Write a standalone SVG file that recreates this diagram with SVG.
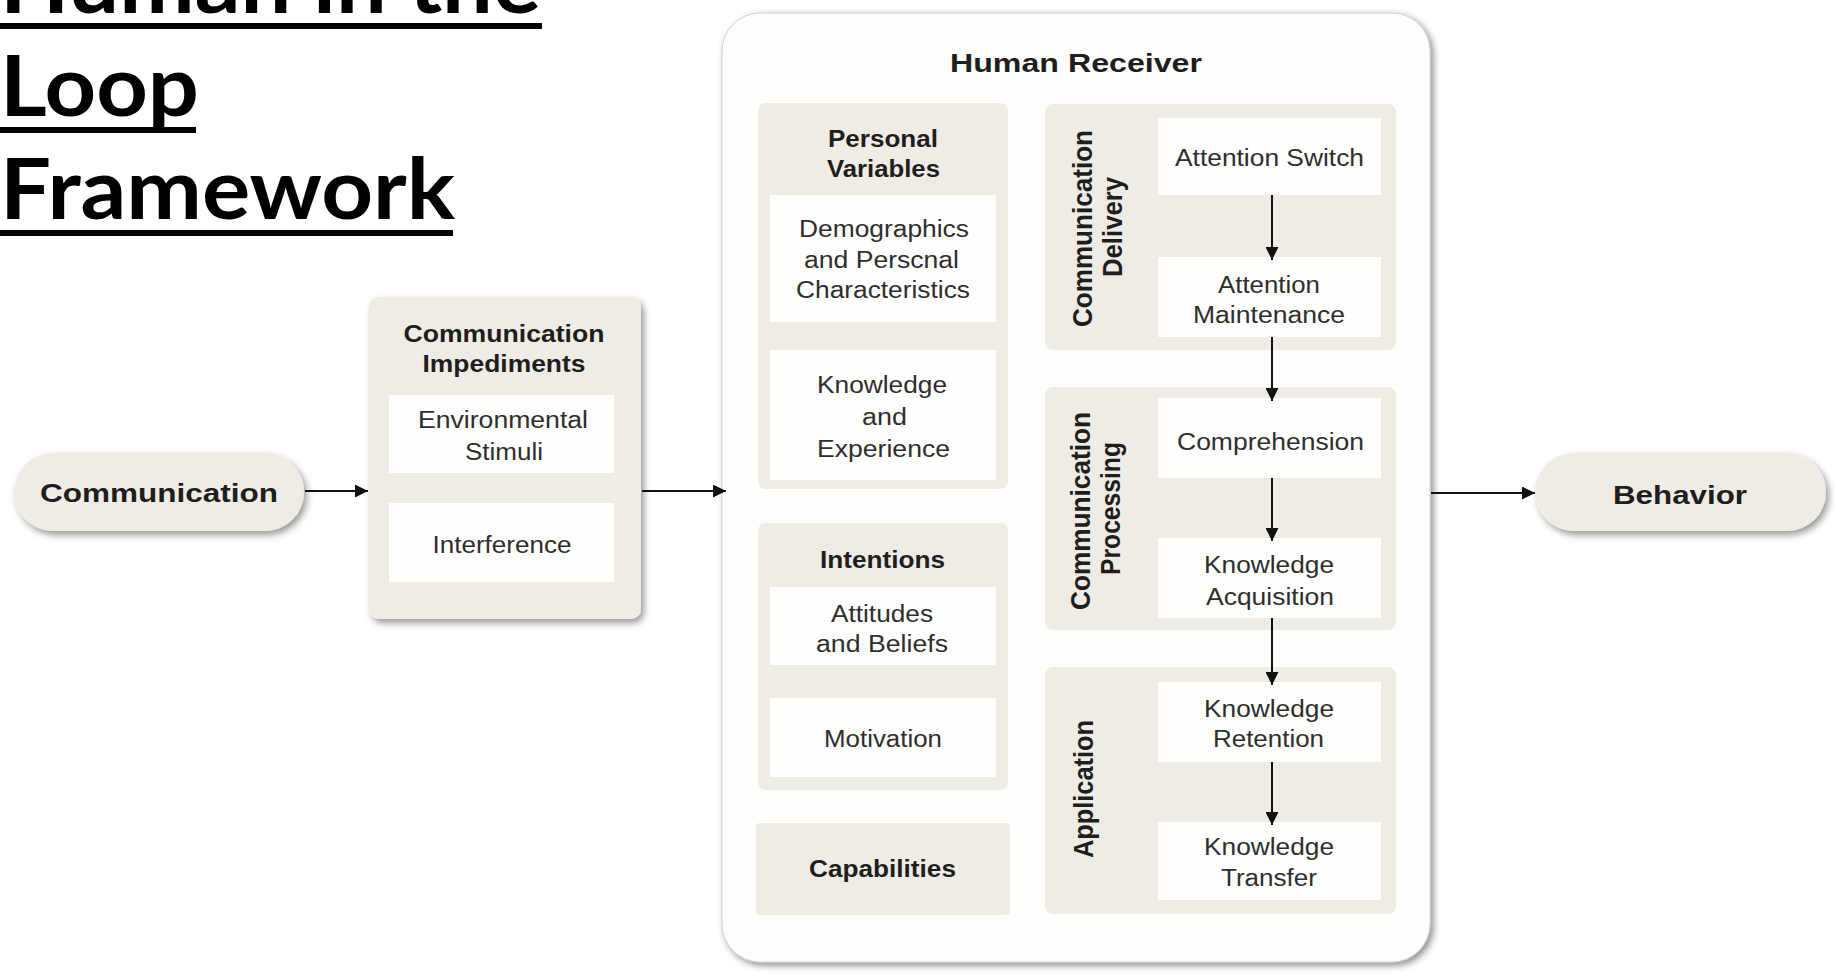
<svg xmlns="http://www.w3.org/2000/svg" width="1835" height="974" viewBox="0 0 1835 974">
  <defs>
    <style>
      .title { font-family: Lato, "Open Sans", "Liberation Sans", sans-serif; font-weight: 700; font-size: 85px; fill: #000; }
      .uline { fill: #000; }
      .head { font-family: "Liberation Sans", Arial, sans-serif; font-weight: 700; fill: #1e1e1e; text-anchor: middle; }
      .body { font-family: "Liberation Sans", Arial, sans-serif; font-weight: 400; font-size: 23px; fill: #2e2e2e; text-anchor: middle; }
      .pill { fill: #efece5; }
      .panel { fill: #efece5; }
      .section { fill: #efece5; }
      .card { fill: #fefefd; }
      .outer { fill: #fdfdfc; stroke: #cfcfcf; stroke-width: 1; }
      .link { stroke: #111; stroke-width: 2; fill: none; }
    </style>
    <filter id="drop" x="-10%" y="-10%" width="125%" height="130%">
      <feDropShadow dx="3" dy="4" stdDeviation="3.5" flood-color="#000" flood-opacity="0.4"/>
    </filter>
    <filter id="dropBig" x="-5%" y="-5%" width="112%" height="110%">
      <feDropShadow dx="3" dy="3" stdDeviation="3.5" flood-color="#000" flood-opacity="0.45"/>
    </filter>
    <marker id="arrow" viewBox="0 0 12 12" markerUnits="userSpaceOnUse" markerWidth="14" markerHeight="13" refX="12" refY="6" orient="auto">
      <path d="M0,0 L12,6 L0,12 z" fill="#111"/>
    </marker>
  </defs>

  <rect width="1835" height="974" fill="#ffffff"/>

  <!-- heading -->
  <g id="heading">
    <text class="title" x="0" y="13" textLength="541" lengthAdjust="spacingAndGlyphs">Human in the</text>
    <rect class="uline" x="0" y="23" width="542" height="6"/>
    <text class="title" x="0" y="116" textLength="199" lengthAdjust="spacingAndGlyphs">Loop</text>
    <rect class="uline" x="0" y="127" width="196" height="6"/>
    <text class="title" x="0" y="219" textLength="455" lengthAdjust="spacingAndGlyphs">Framework</text>
    <rect class="uline" x="0" y="230" width="453" height="6"/>
  </g>

  <!-- input -->
  <g id="communication">
    <rect class="pill" x="14" y="453" width="290" height="78" rx="39" filter="url(#drop)"/>
    <text class="head" x="159" y="502" font-size="26" textLength="238" lengthAdjust="spacingAndGlyphs">Communication</text>
  </g>

  <!-- impediments -->
  <g id="impediments">
    <rect class="panel" x="369" y="297" width="272" height="322" rx="10" filter="url(#drop)"/>
    <text class="head" x="504" y="342" font-size="23.5" textLength="201" lengthAdjust="spacingAndGlyphs">Communication</text>
    <text class="head" x="504" y="372" font-size="23.5" textLength="163" lengthAdjust="spacingAndGlyphs">Impediments</text>
    <rect class="card" x="389" y="395" width="225" height="78"/>
    <text class="body" x="503" y="428" textLength="170" lengthAdjust="spacingAndGlyphs">Environmental</text>
    <text class="body" x="504" y="460" textLength="78" lengthAdjust="spacingAndGlyphs">Stimuli</text>
    <rect class="card" x="389" y="503" width="225" height="79"/>
    <text class="body" x="502" y="553" textLength="139" lengthAdjust="spacingAndGlyphs">Interference</text>
  </g>

  <!-- receiver -->
  <g id="human-receiver">
    <rect class="outer" x="722" y="13" width="708" height="949" rx="38" filter="url(#dropBig)"/>
    <text class="head" x="1076" y="72" font-size="26" textLength="252" lengthAdjust="spacingAndGlyphs">Human Receiver</text>
  </g>

  <g id="personal-variables">
    <rect class="section" x="758" y="103" width="250" height="386" rx="8"/>
    <text class="head" x="883" y="147" font-size="23" textLength="110" lengthAdjust="spacingAndGlyphs">Personal</text>
    <text class="head" x="883.5" y="177" font-size="23" textLength="113" lengthAdjust="spacingAndGlyphs">Variables</text>
    <rect class="card" x="770" y="195" width="226" height="127"/>
    <text class="body" x="884" y="237" textLength="170" lengthAdjust="spacingAndGlyphs">Demographics</text>
    <text class="body" x="881.5" y="268" textLength="155" lengthAdjust="spacingAndGlyphs">and Perscnal</text>
    <text class="body" x="883" y="298" textLength="174" lengthAdjust="spacingAndGlyphs">Characteristics</text>
    <rect class="card" x="770" y="350" width="226" height="130"/>
    <text class="body" x="882" y="393" textLength="130" lengthAdjust="spacingAndGlyphs">Knowledge</text>
    <text class="body" x="884.5" y="425" textLength="45" lengthAdjust="spacingAndGlyphs">and</text>
    <text class="body" x="883.5" y="457" textLength="133" lengthAdjust="spacingAndGlyphs">Experience</text>
  </g>

  <g id="intentions">
    <rect class="section" x="758" y="523" width="250" height="267" rx="8"/>
    <text class="head" x="882.5" y="568" font-size="23" textLength="125" lengthAdjust="spacingAndGlyphs">Intentions</text>
    <rect class="card" x="770" y="587" width="226" height="78"/>
    <text class="body" x="882" y="622" textLength="102" lengthAdjust="spacingAndGlyphs">Attitudes</text>
    <text class="body" x="882" y="652" textLength="132" lengthAdjust="spacingAndGlyphs">and Beliefs</text>
    <rect class="card" x="770" y="698" width="226" height="79"/>
    <text class="body" x="883" y="747" textLength="118" lengthAdjust="spacingAndGlyphs">Motivation</text>
  </g>

  <g id="capabilities">
    <rect class="section" x="756" y="823" width="254" height="92" rx="4"/>
    <text class="head" x="882.5" y="877" font-size="23" textLength="147" lengthAdjust="spacingAndGlyphs">Capabilities</text>
  </g>

  <g id="communication-delivery">
    <rect class="section" x="1045" y="104" width="351" height="246" rx="8"/>
    <text class="head" font-size="24" transform="matrix(0 -1 1.15 0 1092 228.5)" x="0" y="0" textLength="197" lengthAdjust="spacingAndGlyphs">Communication</text>
    <text class="head" font-size="24" transform="matrix(0 -1 1.15 0 1122 227)" x="0" y="0" textLength="100" lengthAdjust="spacingAndGlyphs">Delivery</text>
    <rect class="card" x="1158" y="118" width="223" height="77"/>
    <text class="body" x="1269.5" y="166" textLength="189" lengthAdjust="spacingAndGlyphs">Attention Switch</text>
    <rect class="card" x="1158" y="257" width="223" height="80"/>
    <text class="body" x="1269" y="293" textLength="102" lengthAdjust="spacingAndGlyphs">Attention</text>
    <text class="body" x="1269" y="323" textLength="152" lengthAdjust="spacingAndGlyphs">Maintenance</text>
  </g>

  <g id="communication-processing">
    <rect class="section" x="1045" y="387" width="351" height="243" rx="8"/>
    <text class="head" font-size="24" transform="matrix(0 -1 1.15 0 1090 511)" x="0" y="0" textLength="198" lengthAdjust="spacingAndGlyphs">Communication</text>
    <text class="head" font-size="24" transform="matrix(0 -1 1.15 0 1120 508.5)" x="0" y="0" textLength="133" lengthAdjust="spacingAndGlyphs">Processing</text>
    <rect class="card" x="1158" y="398" width="223" height="80"/>
    <text class="body" x="1270.5" y="450" textLength="187" lengthAdjust="spacingAndGlyphs">Comprehension</text>
    <rect class="card" x="1158" y="538" width="223" height="80"/>
    <text class="body" x="1269" y="573" textLength="130" lengthAdjust="spacingAndGlyphs">Knowledge</text>
    <text class="body" x="1270" y="605" textLength="128" lengthAdjust="spacingAndGlyphs">Acquisition</text>
  </g>

  <g id="application">
    <rect class="section" x="1045" y="667" width="351" height="247" rx="8"/>
    <text class="head" font-size="24" transform="matrix(0 -1 1.15 0 1093 789)" x="0" y="0" textLength="138" lengthAdjust="spacingAndGlyphs">Application</text>
    <rect class="card" x="1158" y="682" width="223" height="80"/>
    <text class="body" x="1269" y="717" textLength="130" lengthAdjust="spacingAndGlyphs">Knowledge</text>
    <text class="body" x="1268.5" y="747" textLength="111" lengthAdjust="spacingAndGlyphs">Retention</text>
    <rect class="card" x="1158" y="822" width="223" height="78"/>
    <text class="body" x="1269" y="855" textLength="130" lengthAdjust="spacingAndGlyphs">Knowledge</text>
    <text class="body" x="1269" y="886" textLength="96" lengthAdjust="spacingAndGlyphs">Transfer</text>
  </g>

  <!-- output -->
  <g id="behavior">
    <rect class="pill" x="1535" y="453" width="291" height="78" rx="39" filter="url(#drop)"/>
    <text class="head" x="1680" y="504" font-size="26" textLength="134" lengthAdjust="spacingAndGlyphs">Behavior</text>
  </g>

  <!-- connectors -->
  <g id="connectors">
    <line class="link" x1="305" y1="491" x2="368" y2="491" marker-end="url(#arrow)"/>
    <line class="link" x1="642" y1="491" x2="726" y2="491" marker-end="url(#arrow)"/>
    <line class="link" x1="1431" y1="493" x2="1535" y2="493" marker-end="url(#arrow)"/>
    <line class="link" x1="1272" y1="195" x2="1272" y2="260" marker-end="url(#arrow)"/>
    <line class="link" x1="1272" y1="337" x2="1272" y2="401" marker-end="url(#arrow)"/>
    <line class="link" x1="1272" y1="478" x2="1272" y2="541" marker-end="url(#arrow)"/>
    <line class="link" x1="1272" y1="618" x2="1272" y2="685" marker-end="url(#arrow)"/>
    <line class="link" x1="1272" y1="762" x2="1272" y2="825" marker-end="url(#arrow)"/>
  </g>
</svg>
